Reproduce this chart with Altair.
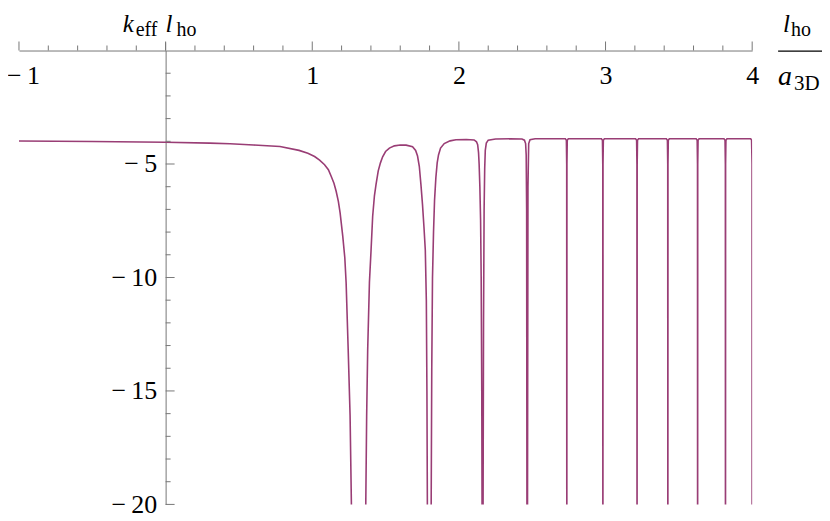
import altair as alt
import pandas as pd

# ---- data ----
curve_x = [
    -1.0, -0.5, 0.0, 0.3, 0.44, 0.6, 0.78, 0.91, 0.97, 1.016, 1.05, 1.084, 1.11, 1.129,
    1.148, 1.163, 1.178, 1.190, 1.208, 1.222, 1.231, 1.245, 1.258, 1.267, 1.272,
    1.36, 1.365, 1.371, 1.378, 1.390, 1.401, 1.412, 1.424, 1.435, 1.450, 1.465, 1.480,
    1.50, 1.526, 1.56, 1.60, 1.64, 1.684, 1.705, 1.718, 1.730, 1.741, 1.752, 1.762,
    1.771, 1.778, 1.782, 1.785, 1.788,
    1.808, 1.811, 1.815, 1.820, 1.827, 1.834, 1.843, 1.852, 1.861, 1.875, 1.900, 1.94,
    1.98, 2.05, 2.104, 2.120, 2.128, 2.134, 2.138, 2.143, 2.148, 2.152, 2.156, 2.158, 2.159,
    2.163, 2.165, 2.168, 2.172, 2.176, 2.180, 2.187, 2.20, 2.25, 2.35, 2.43, 2.447,
    2.455, 2.459, 2.462, 2.464, 2.465,
    2.467, 2.468, 2.471, 2.476, 2.485, 2.52, 2.65, 2.726, 2.733, 2.7352, 2.736,
    2.7368, 2.739, 2.746, 2.80, 2.90, 2.972, 2.979, 2.9812, 2.982,
    2.9828, 2.985, 2.992, 3.10, 3.205, 3.212, 3.2142, 3.215,
    3.2158, 3.218, 3.225, 3.33, 3.415, 3.422, 3.4242, 3.425,
    3.4258, 3.428, 3.435, 3.53, 3.618, 3.625, 3.6272, 3.628,
    3.6288, 3.631, 3.638, 3.72, 3.808, 3.815, 3.8172, 3.818,
    3.8188, 3.821, 3.828, 3.92, 3.990, 3.996, 3.9992, 4.0,
]
curve_y = [
    -3.99, -4.01, -4.04, -4.08, -4.11, -4.16, -4.23, -4.40, -4.53, -4.67, -4.83, -5.03, -5.25, -5.54,
    -5.85, -6.20, -6.65, -7.15, -8.18, -9.13, -10.23, -13.16, -16.09, -20.0, -30.0,
    -30.0, -20.0, -16.1, -13.2, -10.2, -8.8, -7.3, -6.4, -5.9, -5.3, -4.95, -4.68,
    -4.45, -4.30, -4.20, -4.16, -4.17, -4.24, -4.40, -4.65, -5.1, -5.9, -6.8, -7.8,
    -8.8, -11.0, -15.0, -20.0, -30.0,
    -30.0, -20.0, -14.0, -10.0, -8.0, -6.6, -5.6, -4.95, -4.6, -4.3, -4.10, -3.98,
    -3.93, -3.92, -3.94, -4.02, -4.15, -4.5, -5.0, -6.0, -7.5, -10.0, -15.0, -20.0, -30.0,
    -30.0, -20.0, -12.0, -7.0, -5.2, -4.4, -4.08, -3.95, -3.90, -3.89, -3.90, -3.95,
    -4.1, -4.6, -7.0, -20.0, -30.0,
    -30.0, -20.0, -6.0, -4.1, -3.93, -3.89, -3.89, -3.89, -3.95, -5.0, -30.0,
    -5.0, -3.95, -3.89, -3.89, -3.89, -3.89, -3.95, -5.0, -30.0,
    -5.0, -3.95, -3.89, -3.89, -3.89, -3.95, -5.0, -30.0,
    -5.0, -3.95, -3.89, -3.89, -3.89, -3.95, -5.0, -30.0,
    -5.0, -3.95, -3.89, -3.89, -3.89, -3.95, -5.0, -30.0,
    -5.0, -3.95, -3.89, -3.89, -3.89, -3.95, -5.0, -30.0,
    -5.0, -3.95, -3.89, -3.89, -3.89, -3.95, -5.0, -30.0,
]

x_major_ticks = [-1, 0, 1, 2, 3, 4]
x_minor_ticks = [-0.8, -0.6, -0.4, -0.2, 0.2, 0.4, 0.6, 0.8, 1.2, 1.4, 1.6, 1.8,
                 2.2, 2.4, 2.6, 2.8, 3.2, 3.4, 3.6, 3.8]
y_major_ticks = [-5, -10, -15, -20]
y_minor_ticks = [-1, -2, -3, -4, -6, -7, -8, -9, -11, -12, -13, -14, -16, -17, -18, -19]
x_label_values = [-1, 1, 2, 3, 4]
y_label_values = [-5, -10, -15, -20]

# ---- styling ----
W, H = 735, 455
FONT = "Liberation Serif"
AXIS_COLOR = "#777777"
LINE_COLOR = "#993D75"
LABEL_SIZE = 26

xs = alt.Scale(domain=[-1, 4], nice=False, zero=False)
ys = alt.Scale(domain=[-20, 0], nice=False, zero=False)

df = pd.DataFrame({"x": curve_x, "y": curve_y, "i": list(range(len(curve_x)))})

label_expr = "datum.value < 0 ? '\u2212\u2009' + format(abs(datum.value), 'd') : format(datum.value, 'd')"

curve = alt.Chart(df).mark_line(color=LINE_COLOR, strokeWidth=1.6, clip=True).encode(
    x=alt.X("x:Q", scale=xs, axis=alt.Axis(
        orient="top", values=x_label_values, ticks=False, tickSize=0,
        labelPadding=-33, labelBaseline="alphabetic", labelFont=FONT, labelFlush=False,
        labelOverlap=False, labelFontSize=LABEL_SIZE, labelColor="black",
        labelOffset={"condition": {"test": "datum.value < 0", "value": 4}, "value": 0},
        domainColor=AXIS_COLOR, grid=False, title=None, labelExpr=label_expr)),
    y=alt.Y("y:Q", scale=ys, axis=alt.Axis(
        orient="left", offset=-147, values=y_label_values, ticks=False, tickSize=0,
        labelPadding=9, labelFont=FONT, labelFontSize=LABEL_SIZE, labelColor="black",
        labelFlush=False, labelOverlap=False,
        domainColor=AXIS_COLOR, grid=False, title=None, labelExpr=label_expr)),
    order="i:Q",
)

xt_major = alt.Chart(pd.DataFrame({"x": x_major_ticks})).mark_tick(
    orient="vertical", size=9, thickness=1, yOffset=-4.5, color=AXIS_COLOR, opacity=1
).encode(x=alt.X("x:Q", scale=xs), y=alt.Y(datum=0))

xt_minor = alt.Chart(pd.DataFrame({"x": x_minor_ticks})).mark_tick(
    orient="vertical", size=5, thickness=1, yOffset=-2.5, color=AXIS_COLOR, opacity=1
).encode(x=alt.X("x:Q", scale=xs), y=alt.Y(datum=0))

yt_major = alt.Chart(pd.DataFrame({"y": y_major_ticks})).mark_tick(
    orient="horizontal", size=9, thickness=1, xOffset=4.5, color=AXIS_COLOR, opacity=1
).encode(y=alt.Y("y:Q", scale=ys), x=alt.X(datum=0))

yt_minor = alt.Chart(pd.DataFrame({"y": y_minor_ticks})).mark_tick(
    orient="horizontal", size=5, thickness=1, xOffset=2.5, color=AXIS_COLOR, opacity=1
).encode(y=alt.Y("y:Q", scale=ys), x=alt.X(datum=0))

# short extension of the vertical axis above the horizontal one
y_ext = alt.Chart(pd.DataFrame({"x": [0]})).mark_tick(
    orient="vertical", size=8, thickness=1, yOffset=-4, color=AXIS_COLOR, opacity=1
).encode(x=alt.X("x:Q", scale=xs), y=alt.Y(datum=0))

# axis titles (rich text pieces)
title_text = ["k", "eff", "l", "ho", "l", "ho", "a", "3D"]
title_px = [104, 117, 147, 158, 766, 774, 761, 777]
title_py = [-19, -15, -19, -15, -19, -15, 35, 40]
title_fs = [25, 20, 25, 20, 25, 20, 28, 21]
title_st = ["italic", "normal", "italic", "normal", "italic", "normal", "italic", "normal"]


def piece(t, px, py, fs, st):
    return alt.Chart(pd.DataFrame({"t": [t]})).mark_text(
        font=FONT, fontSize=fs, fontStyle=st, align="left",
        baseline="alphabetic", color="black"
    ).encode(text="t:N", x=alt.value(px), y=alt.value(py))


titles = [piece(*a) for a in zip(title_text, title_px, title_py, title_fs, title_st)]

frac_bar = alt.Chart(pd.DataFrame({"a": [0]})).mark_rule(color="black", strokeWidth=1.3).encode(
    x=alt.value(761), x2=alt.value(808), y=alt.value(0.5)
)

chart = alt.layer(curve, xt_major, xt_minor, yt_major, yt_minor, y_ext, frac_bar, *titles).properties(
    width=W, height=H,
    autosize=alt.AutoSizeParams(type="none"),
    padding={"left": 11, "top": 42, "right": 70, "bottom": 16},
).configure_view(stroke=None)

chart.save("out.html", embed_options={"renderer": "svg", "actions": False})
